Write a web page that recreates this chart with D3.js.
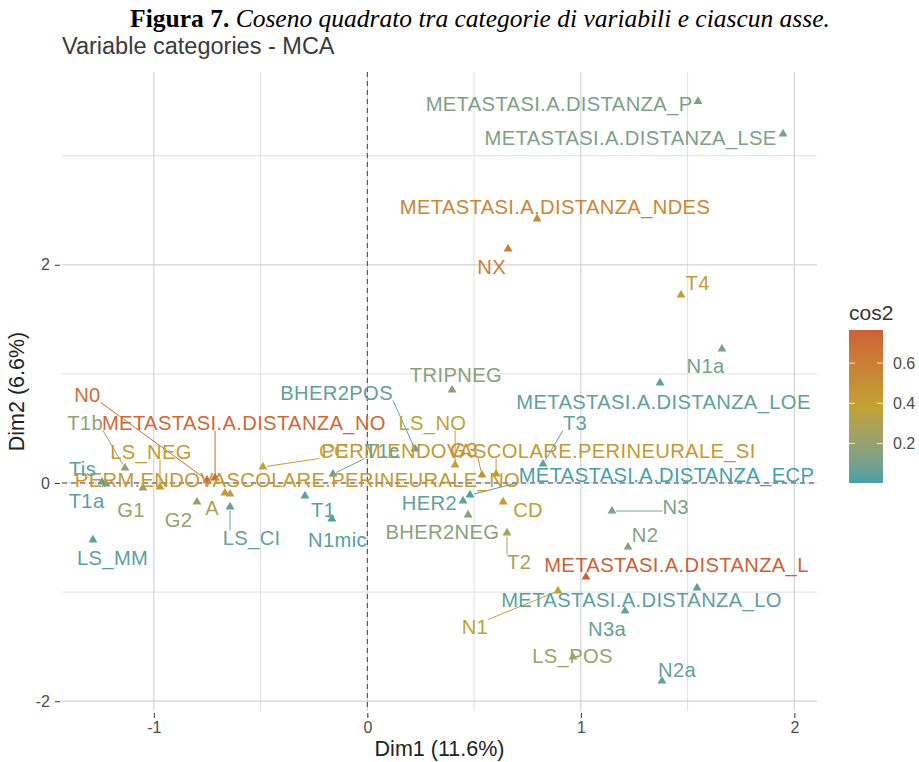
<!DOCTYPE html>
<html><head><meta charset="utf-8">
<script src="https://cdn.jsdelivr.net/npm/d3@7"></script>
<style>body{margin:0;background:#fff;} svg{display:block;}</style>
</head><body><svg id="c" width="919" height="762"></svg>
<script>
// ---- data ----
const labels = ["METASTASI.A.DISTANZA_P","METASTASI.A.DISTANZA_LSE","METASTASI.A.DISTANZA_NDES","NX","T4","N1a","METASTASI.A.DISTANZA_LOE","TRIPNEG","BHER2POS","T3","LS_NO","G3","PERM.ENDOVASCOLARE.PERINEURALE_SI","METASTASI.A.DISTANZA_ECP","HER2","CD","BHER2NEG","T2","N3","N2","METASTASI.A.DISTANZA_L","METASTASI.A.DISTANZA_LO","N1","N3a","LS_POS","N2a","T1c","T1","N1mic","CC","LS_CI","A","PERM.ENDOVASCOLARE.PERINEURALE_NO","METASTASI.A.DISTANZA_NO","N0","G2","LS_NEG","G1","T1b","Tis","T1a","LS_MM"];
const dim1 = [1.549,1.947,0.795,0.659,1.469,1.661,1.371,0.397,0.223,0.823,0.411,0.537,0.603,0.481,0.448,0.636,0.472,0.654,1.146,1.221,1.024,1.544,0.893,1.207,0.963,1.380,-0.161,-0.292,-0.166,-0.489,-0.643,-0.643,-0.667,-0.713,-0.751,-0.798,-0.971,-1.051,-1.135,-1.243,-1.224,-1.285];
const dim2 = [3.497,3.199,2.420,2.145,1.723,1.228,0.917,0.852,0.312,0.174,0.165,0.073,0.082,-0.110,-0.165,-0.174,-0.293,-0.458,-0.257,-0.587,-0.862,-0.962,-0.990,-1.173,-1.595,-1.815,0.082,-0.119,-0.330,0.147,-0.220,-0.101,-0.092,0.046,0.027,-0.174,-0.037,-0.046,0.137,0.009,-0.009,-0.522];
const cos2 = [0.12,0.12,0.55,0.60,0.42,0.10,0.05,0.16,0.05,0.06,0.37,0.50,0.45,0.003,0.05,0.42,0.16,0.26,0.12,0.15,0.765,0.04,0.39,0.06,0.22,0.06,0.06,0.05,0.03,0.38,0.06,0.29,0.45,0.72,0.70,0.20,0.43,0.19,0.18,0.04,0.04,0.04];
// repelled label anchors (data units)
const labelDim1 = [0.898,1.233,0.879,0.582,1.547,1.584,1.387,0.415,-0.144,0.973,0.305,0.453,0.802,1.401,0.291,0.753,0.352,0.711,1.444,1.301,1.448,1.284,0.504,1.123,0.961,1.451,0.069,-0.207,-0.140,-0.156,-0.542,-0.727,-0.327,-0.578,-1.311,-0.884,-1.013,-1.107,-1.322,-1.334,-1.315,-1.193];
const labelDim2 = [3.474,3.162,2.530,1.980,1.833,1.072,0.742,0.990,0.825,0.550,0.550,0.302,0.293,0.073,-0.183,-0.247,-0.449,-0.724,-0.220,-0.477,-0.752,-1.072,-1.320,-1.338,-1.586,-1.714,0.293,-0.247,-0.522,0.293,-0.504,-0.229,0.027,0.550,0.807,-0.339,0.284,-0.247,0.550,0.128,-0.165,-0.687];
const xMajor = [-1,0,1,2], xMinor = [-0.5,0.5,1.5];
const yMajor = [-2,0,2], yMinor = [-1,1,3];
const legendTicks = [0.2,0.4,0.6];
const titleBold = "Figura 7.";
const titleItalic = " Coseno quadrato tra categorie di variabili e ciascun asse.";
const subtitle = "Variable categories - MCA";
const xTitle = "Dim1 (11.6%)", yTitle = "Dim2 (6.6%)", legendTitle = "cos2";

// ---- layout ----
const svg = d3.select("#c");
const L = 62, R = 817, T = 72, B = 711;
const x = d3.scaleLinear().domain([-1.43, 2.106]).range([L, R]);
const y = d3.scaleLinear().domain([-2.09, 3.767]).range([B, T]);
const ext = d3.extent(cos2);
const color = d3.scaleLinear()
  .domain([ext[0], (ext[0]+ext[1])/2, ext[1]])
  .range(["#46a0a8", "#c2a233", "#cf6036"])
  .interpolate(d3.interpolateLab);
const sans = "'Liberation Sans', Arial, sans-serif";
const minus = d => d < 0 ? "-" + Math.abs(d) : String(d);

// title
const tt = svg.append("text").attr("x", 480).attr("y", 27).attr("text-anchor","middle")
  .attr("font-family","'Liberation Serif','Times New Roman',serif").attr("font-size",25.5).attr("fill","#000");
tt.append("tspan").attr("font-weight","bold").text(titleBold);
tt.append("tspan").attr("font-style","italic").text(titleItalic);
svg.append("text").attr("x", 62).attr("y", 54).attr("font-family",sans).attr("font-size",23.5)
  .attr("fill","#3a3a3a").text(subtitle);

// grid
const g = svg.append("g");
g.selectAll(".vmin").data(xMinor).join("line").attr("x1",d=>x(d)).attr("x2",d=>x(d)).attr("y1",T).attr("y2",B)
  .attr("stroke","#e0e0e0").attr("stroke-width",1);
g.selectAll(".hmin").data(yMinor).join("line").attr("y1",d=>y(d)).attr("y2",d=>y(d)).attr("x1",L).attr("x2",R)
  .attr("stroke","#e0e0e0").attr("stroke-width",1);
g.selectAll(".vmaj").data(xMajor).join("line").attr("x1",d=>x(d)).attr("x2",d=>x(d)).attr("y1",T).attr("y2",B)
  .attr("stroke","#d3d3d3").attr("stroke-width",1.2);
g.selectAll(".hmaj").data(yMajor).join("line").attr("y1",d=>y(d)).attr("y2",d=>y(d)).attr("x1",L).attr("x2",R)
  .attr("stroke","#d3d3d3").attr("stroke-width",1.2);
// zero dashed lines
g.append("line").attr("x1",x(0)).attr("x2",x(0)).attr("y1",T).attr("y2",B)
  .attr("stroke","#444").attr("stroke-width",1).attr("stroke-dasharray","5,4");
g.append("line").attr("y1",y(0)).attr("y2",y(0)).attr("x1",L).attr("x2",R)
  .attr("stroke","#444").attr("stroke-width",1).attr("stroke-dasharray","5,4");

// axes
const xAxis = d3.axisBottom(x).tickValues(xMajor).tickFormat(minus).tickSize(5).tickPadding(4);
const yAxis = d3.axisLeft(y).tickValues(yMajor).tickFormat(minus).tickSize(5).tickPadding(5);
const xa = svg.append("g").attr("transform",`translate(0,${B+2})`).call(xAxis);
const ya = svg.append("g").attr("transform",`translate(${L-2},0)`).call(yAxis);
[xa,ya].forEach(a=>{
  a.select(".domain").remove();
  a.selectAll(".tick line").attr("stroke","#333");
  a.selectAll(".tick text").attr("font-family",sans).attr("font-size",16).attr("fill","#4d4d4d");
});
svg.append("text").attr("x",(L+R)/2).attr("y",756).attr("text-anchor","middle")
  .attr("font-family",sans).attr("font-size",21.5).attr("fill","#222").text(xTitle);
svg.append("text").attr("transform",`translate(24,${(T+B)/2}) rotate(-90)`).attr("text-anchor","middle")
  .attr("font-family",sans).attr("font-size",21.5).attr("fill","#222").text(yTitle);

// points
const idx = d3.range(labels.length);
const segG = svg.append("g"), ptG = svg.append("g"), lbG = svg.append("g");
ptG.selectAll("path").data(idx).join("path")
  .attr("d", d3.symbol(d3.symbolTriangle, 34))
  .attr("transform", i=>`translate(${x(dim1[i])},${y(dim2[i])})`)
  .attr("fill", i=>color(cos2[i]));
// labels
const texts = lbG.selectAll("text").data(idx).join("text")
  .attr("x", i=>x(labelDim1[i])).attr("y", i=>y(labelDim2[i]))
  .attr("text-anchor","middle").attr("dominant-baseline","central")
  .attr("font-family",sans).attr("font-size",20.2).attr("letter-spacing",0.35)
  .attr("fill", i=>color(cos2[i])).text(i=>labels[i]);
// segments (ggrepel-like)
texts.each(function(i){
  const w = this.getComputedTextLength();
  const cx = x(labelDim1[i]), cy = y(labelDim2[i]);
  const px = x(dim1[i]), py = y(dim2[i]);
  const bx = Math.max(cx-w/2, Math.min(cx+w/2, px));
  const by = Math.max(cy-7.5, Math.min(cy+7.5, py));
  const d = Math.hypot(px-bx, py-by);
  if (d > 15) {
    const sh = 4/d;
    segG.append("line").attr("x1",bx).attr("y1",by)
      .attr("x2",px-(px-bx)*sh).attr("y2",py-(py-by)*sh)
      .attr("stroke",color(cos2[i])).attr("stroke-width",1);
  }
});

// legend
const lx = 849, lw = 34, lyTop = 330, lyBot = 483;
const ly = d3.scaleLinear().domain(ext).range([lyBot, lyTop]);
const grad = svg.append("defs").append("linearGradient").attr("id","cg")
  .attr("x1",0).attr("y1",1).attr("x2",0).attr("y2",0);
d3.range(0,1.0001,0.05).forEach(t=>{
  grad.append("stop").attr("offset",t).attr("stop-color",color(ext[0]+t*(ext[1]-ext[0])));
});
svg.append("rect").attr("x",lx).attr("y",lyTop).attr("width",lw).attr("height",lyBot-lyTop).attr("fill","url(#cg)");
legendTicks.forEach(v=>{
  svg.append("line").attr("x1",lx).attr("x2",lx+6).attr("y1",ly(v)).attr("y2",ly(v)).attr("stroke","#fff").attr("stroke-opacity",0.8);
  svg.append("line").attr("x1",lx+lw-6).attr("x2",lx+lw).attr("y1",ly(v)).attr("y2",ly(v)).attr("stroke","#fff").attr("stroke-opacity",0.8);
  svg.append("text").attr("x",893).attr("y",ly(v)).attr("dominant-baseline","central")
    .attr("font-family",sans).attr("font-size",16).attr("fill","#4d4d4d").text(v.toFixed(1));
});
svg.append("text").attr("x",849).attr("y",320).attr("font-family",sans).attr("font-size",21)
  .attr("fill","#333").text(legendTitle);
</script></body></html>
